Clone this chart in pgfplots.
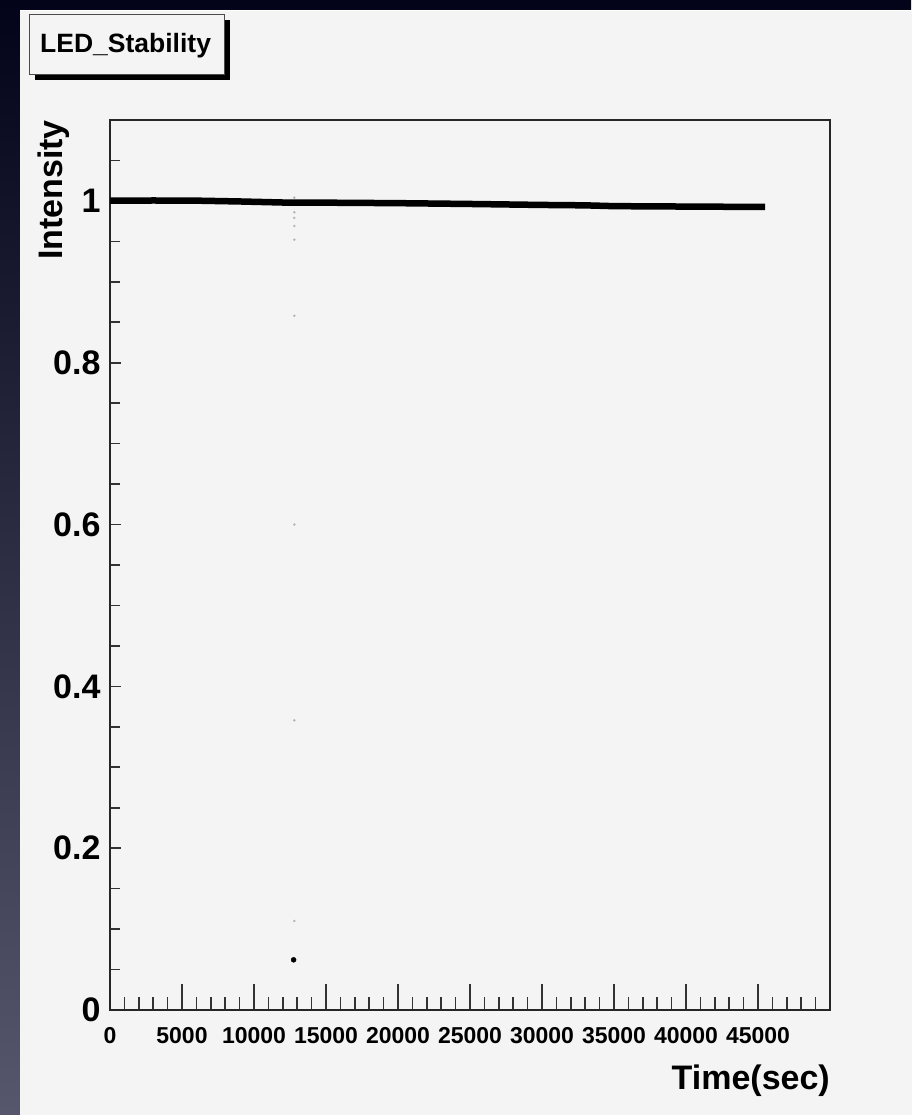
\documentclass[border=0pt]{standalone}
\usepackage{pgfplots}
\pgfplotsset{compat=1.18}
\usepackage{fontspec}
\setmainfont{Liberation Sans}
\definecolor{canvas}{HTML}{F4F4F4}
\definecolor{bgtop}{HTML}{03031A}
\definecolor{bgbot}{HTML}{56566C}
\begin{document}
\begin{tikzpicture}[x=1pt,y=1pt]
\shade[top color=bgtop, bottom color=bgbot] (0,0) rectangle (911,1115);
\fill[canvas] (20,0) rectangle (912,1104);
\draw[white, line width=1.5pt] (20,1104.5) -- (912,1104.5);
% title box
\fill[black] (35,1035) rectangle (230,1095);
\filldraw[fill=canvas, draw=black!70, line width=1pt] (29,1040) rectangle (224,1100);
\node[anchor=base west, inner sep=0pt, font=\fontsize{26.5}{26.5}\selectfont\bfseries] at (40,1062) {LED\_Stability};
\begin{axis}[
  at={(110pt,105pt)}, anchor=south west,
  scale only axis, width=720pt, height=890pt,
  xmin=0, xmax=50000, ymin=0, ymax=1.1,
  axis line style={black!85, line width=2pt},
  xtick={0,5000,...,45000},
  minor xtick={1000,2000,...,49000},
  ytick={0,0.2,0.4,0.6,0.8,1},
  minor ytick={0.05,0.1,...,1.06},
  xtick pos=bottom, ytick pos=left,
  tick style={black!80, line width=1.6pt},
  xtick style={/pgfplots/major tick length=26pt},
  minor x tick style={/pgfplots/minor tick length=13pt},
  ytick style={/pgfplots/major tick length=11pt},
  minor y tick style={/pgfplots/minor tick length=10pt},
  scaled ticks=false,
  /pgf/number format/assume math mode=true,
  /pgf/number format/set thousands separator={},
  xticklabel style={font=\fontsize{23}{23}\selectfont\bfseries, yshift=-14pt},
  yticklabel style={font=\fontsize{34}{34}\selectfont\bfseries, xshift=-6pt},
]
\addplot[black, line width=6.5pt, line join=round] coordinates {
(0,1.0002) (3000,1.0005) (6000,1.0003) (9000,0.9993) (12000,0.998)
(15000,0.9978) (20000,0.9972) (25000,0.9962) (30000,0.995) (33000,0.9945)
(35000,0.9935) (40000,0.993) (45500,0.9925)
};
\addplot[only marks, mark=*, mark size=1pt, gray!60, mark options={draw=gray!60, fill=gray!60}] coordinates {
(12800,1.004) (12800,0.986) (12800,0.979) (12800,0.969) (12800,0.952)
(12800,0.858) (12800,0.600) (12800,0.358) (12800,0.110)
};
\addplot[only marks, mark=*, mark size=2.5pt, black] coordinates {(12750,0.062)};
\end{axis}
\node[anchor=base east, inner sep=0pt, font=\fontsize{34}{34}\selectfont\bfseries] at (830,25) {Time(sec)};
\node[rotate=90, anchor=base east, inner sep=0pt, font=\fontsize{34}{34}\selectfont\bfseries] at (62,995) {Intensity};
\pgfresetboundingbox
\useasboundingbox (0,0) rectangle (911,1115);
\end{tikzpicture}
\end{document}
